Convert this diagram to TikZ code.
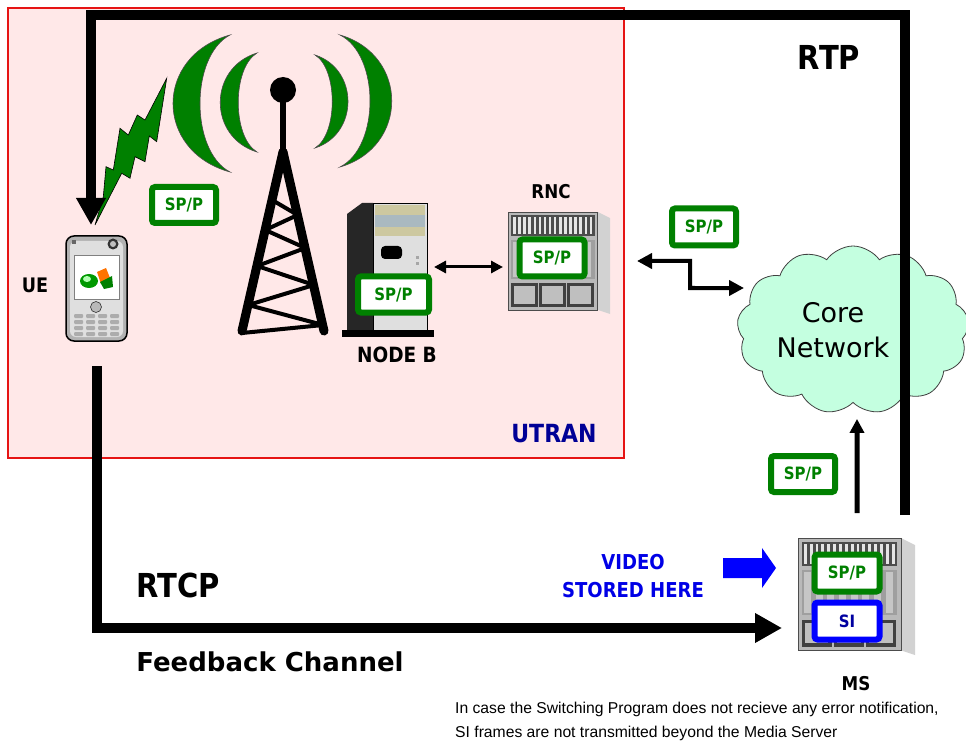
\documentclass[tikz,border=0pt]{standalone}
\usepackage{fontspec}
\setmainfont{DejaVu Sans}
\newfontfamily\lblfont[FakeStretch=0.88]{DejaVu Sans}
\newfontfamily\notefont{Liberation Sans}
\usetikzlibrary{arrows.meta,shapes.symbols,calc}

\definecolor{utranfill}{RGB}{255,232,232}
\definecolor{utranred}{RGB}{230,20,20}
\definecolor{sppgreen}{RGB}{0,128,0}
\definecolor{siblue}{RGB}{0,0,255}
\definecolor{sitext}{RGB}{0,0,160}
\definecolor{cloudfill}{RGB}{196,255,224}
\definecolor{navytext}{RGB}{0,0,150}
\definecolor{videoblue}{RGB}{0,0,230}
\definecolor{beige}{RGB}{205,200,160}
\definecolor{bluegray}{RGB}{170,185,192}

\tikzset{
  lbl/.style={font=\lblfont\bfseries\fontsize{19}{22}\selectfont, inner sep=0},
  biglbl/.style={font=\lblfont\bfseries\fontsize{33}{38}\selectfont, inner sep=0},
  spp/.style={draw=sppgreen, line width=6pt, fill=white, rounded corners=3pt,
    inner sep=0, minimum width=64pt, minimum height=36pt, text=sppgreen,
    font=\lblfont\bfseries\fontsize{17}{20}\selectfont},
  sibox/.style={spp, draw=siblue, text=sitext},
  area/.style={inner sep=0, outer sep=0},
  fatline/.style={line width=10pt, line join=miter},
  thinarrow/.style={line width=4pt},
  fathead/.style={-{Triangle[length=27pt,width=28pt]}},
  crescent/.style={fill=sppgreen, draw=black!70, line width=0.6pt},
  rackpic/.pic={
    \fill[gray!35] (88,0) -- (100,6) -- (100,100) -- (88,96) -- cycle;
    \fill[gray!55, draw=black!70, line width=0.6pt] (0,0) rectangle (88,96);
    \fill[black!70] (3,3) rectangle (85,24);
    \foreach \i in {0,...,15} {\fill[gray!20] ({5+\i*5},5) rectangle ({7.5+\i*5},22);}
    \fill[gray!75] (3,27) rectangle (85,66);
    \foreach \i in {0,...,7} {\fill[gray!45] ({5+\i*10},29) rectangle ({11+\i*10},64);}
    \foreach \i in {0,1,2} {
      \fill[black!75] ({3+\i*27.5},70) rectangle ({29+\i*27.5},93);
      \fill[gray!50] ({6+\i*27.5},73) rectangle ({26+\i*27.5},90);}
  }
}

\begin{document}
\begin{tikzpicture}[x=1pt,y=-1pt]
\useasboundingbox (0,0) rectangle (966,743);
\fill[white] (0,0) rectangle (966,743);

% UTRAN area
\draw[utranred, line width=1.5pt, fill=utranfill] (8,8) rectangle (624,458);
\node[font=\lblfont\bfseries\fontsize{25}{29}\selectfont, text=navytext, inner sep=0] (utran) at (554,434) {UTRAN};

% named areas of the elements
\node[area, minimum width=63pt, minimum height=107pt] (ue) at (96.5,288.5) {};
\node[area, minimum width=86pt, minimum height=134pt] (nodeb) at (390,267) {};
\node[area, minimum width=102pt, minimum height=101pt] (rnc) at (559,262.5) {};
\node[area, minimum width=117pt, minimum height=119pt] (ms) at (856.5,597.5) {};

% radio waves
\path[crescent] (230,35) .. controls (154,56) and (154,151) .. (230,172)
  .. controls (190,151) and (190,56) .. cycle;
\path[crescent] (257,53) .. controls (208,68) and (208,137) .. (257,152)
  .. controls (232,137) and (232,68) .. cycle;
\path[crescent] (340,35) .. controls (409,55) and (409,147) .. (340,167)
  .. controls (380,147) and (380,55) .. cycle;
\path[crescent] (315,55) .. controls (359,69) and (359,134) .. (315,148)
  .. controls (338,134) and (338,69) .. cycle;

% antenna tower
\draw[line width=6pt] (283,92) -- (283,156);
\fill (283,90) circle (13);
\draw[line width=9pt, line cap=round] (283,152) -- (242,331);
\draw[line width=9pt, line cap=round] (283,152) -- (324,331);
\draw[line width=4pt, line join=round] (272.1,200) -- (297.6,215) -- (265.3,230) -- (305.3,248)
  -- (257.2,266) -- (313.9,285) -- (248.3,305) -- (323.1,325) -- (242,333);

% lightning bolt
\fill[sppgreen, draw=black, line width=0.6pt] (166.7,78.3) -- (156.7,141.7) -- (149.3,136) -- (145,161.7)
  -- (135,156.7) -- (130,178.3) -- (121.7,173.3) -- (95,225) -- (103.3,196.7) -- (106,166.7)
  -- (113.3,170) -- (120,128.3) -- (128.3,135) -- (137.3,115) -- (145,120) -- cycle;

% handset
\fill[gray!60, draw=black, line width=1.5pt, rounded corners=8pt] (66,236) rectangle (127,341);
\fill[gray!25, rounded corners=6pt] (70,241) rectangle (123,337);
\fill[black!80] (113,244) circle (5.5);
\fill[gray!50] (113,244) circle (3);
\fill[black!60] (72,240) rectangle (76,244);
\fill[white, draw=gray, line width=0.8pt] (74,255) rectangle (119,299);
\fill[green!60!black] (89,281) ellipse (9 and 7);
\fill[green!30] (87,279) ellipse (4 and 3);
\fill[orange!90!red] (97,272) -- (106,268) -- (110,278) -- (101,284) -- cycle;
\fill[green!50!black] (100,282) -- (112,276) -- (113,287) -- (104,289) -- cycle;
\fill[gray!55, draw=gray!40!black, line width=0.6pt] (96,307) circle (5.5);
\foreach \r in {0,1,2,3} {
  \foreach \c in {0,1,2,3} {
    \fill[gray!65, rounded corners=1pt] ({74+\c*12},{314+\r*6}) rectangle ({83+\c*12},{318+\r*6});
  }
}
\node[lbl, font=\lblfont\bfseries\fontsize{20}{24}\selectfont] (uelbl) at (35,285) {UE};

% Node B cabinet
\fill[black!85] (347,214) -- (362,203) -- (373,203) -- (373,336) -- (347,332) -- cycle;
\fill[gray!25, draw=black, line width=0.8pt] (373,203) rectangle (427,330);
\fill[beige] (375,205) rectangle (425,215);
\fill[bluegray] (375,215) rectangle (425,227);
\fill[beige] (375,227) rectangle (425,236);
\fill[black, rounded corners=4pt] (381,246) rectangle (402,259);
\fill[gray!70] (416,256) rectangle (419,259);
\fill[gray!70] (416,262) rectangle (419,265);
\fill[black] (342,330) rectangle (434,337);
\node[lbl, font=\lblfont\bfseries\fontsize{21}{24}\selectfont] (nodeblbl) at (397,355) {NODE B};

% RNC and MS racks
\pic[scale=1.02] at (508,212) {rackpic};
\pic[scale=1.17] at (798,538) {rackpic};
\node[lbl] (rnclbl) at (551,192) {RNC};
\node[lbl] (mslbl) at (856,684) {MS};

% SP/P and SI boxes
\node[spp] (spp1) at (184,205) {SP/P};
\node[spp, minimum width=71pt] (spp2) at (393.5,294.5) {SP/P};
\node[spp, minimum width=65pt, minimum height=37pt] (spp3) at (552,258) {SP/P};
\node[spp, minimum width=64pt, minimum height=37pt] (spp4) at (704,227) {SP/P};
\node[spp, minimum width=64pt, minimum height=36pt] (spp5) at (803,474) {SP/P};
\node[spp, minimum width=65pt, minimum height=37pt] (spp6) at (847,573) {SP/P};
\node[sibox, minimum width=65pt, minimum height=37pt] (si) at (847,621) {SI};

% core network
\node[cloud, cloud puffs=13, cloud puff arc=110, cloud ignores aspect,
  minimum width=232pt, minimum height=168pt, fill=cloudfill, draw=black!75,
  line width=0.8pt] (core) at (853,330) {};
\node[font=\fontsize{27}{35}\selectfont, align=center, inner sep=0] (corelbl) at (833,330) {Core\\Network};

% links between elements
\draw[line width=3pt, {Triangle[length=12pt,width=12pt]}-{Triangle[length=12pt,width=12pt]}]
  ($(nodeb.east)+(1,0)$) -- ($(rnc.west)+(-5,4.5)$);
\coordinate (zzA) at ($(rnc.east)+(27,-1.5)$);
\coordinate (zzB) at ($(core.west)+(6,-42)$);
\draw[thinarrow, line join=miter, {Triangle[length=15pt,width=15pt]}-{Triangle[length=15pt,width=15pt]}]
  (zzA) -- (690,261) -- (690,288) -- (zzB);
\draw[line width=5pt, -{Triangle[length=14pt,width=14pt]}]
  ($(ms.north)+(0.5,-25)$) -- ($(core.south)+(4,16)$);

% RTP path
\coordinate (rtpA) at ($(ms.north)+(48.5,-23)$);
\coordinate (rtpB) at (905,15);
\coordinate (rtpC) at (91,15);
\coordinate (rtpD) at ($(ue.north)+(-5.5,-10)$);
\draw[fatline, fathead] (rtpA) -- (rtpB) -- (rtpC) -- (rtpD);
\node[biglbl] (rtp) at (829,57) {RTP};

% RTCP feedback path
\coordinate (rtcpA) at ($(ue.south)+(0.5,24)$);
\coordinate (rtcpB) at (97,628);
\coordinate (rtcpC) at ($(ms.west)+(-16,30.5)$);
\draw[fatline, fathead] (rtcpA) -- (rtcpB) -- (rtcpC);
\node[biglbl] (rtcp) at (178,585) {RTCP};
\node[font=\bfseries\fontsize{26}{30}\selectfont, inner sep=0] (fb) at (270,662) {Feedback Channel};

% stored video
\node[font=\lblfont\bfseries\fontsize{20.5}{28}\selectfont, text=videoblue, align=center, inner sep=0] (video) at (633,576) {VIDEO\\STORED HERE};
\fill[siblue] (723,558) -- (762,558) -- (762,548) -- (776,568) -- (762,588) -- (762,578) -- (723,578) -- cycle;

% note
\node[anchor=west, font=\notefont\fontsize{15.7}{24}\selectfont, align=left, inner sep=0] (note) at (455,721)
  {In case the Switching Program does not recieve any error notification,\\SI frames are not transmitted beyond the Media Server};
\end{tikzpicture}
\end{document}
